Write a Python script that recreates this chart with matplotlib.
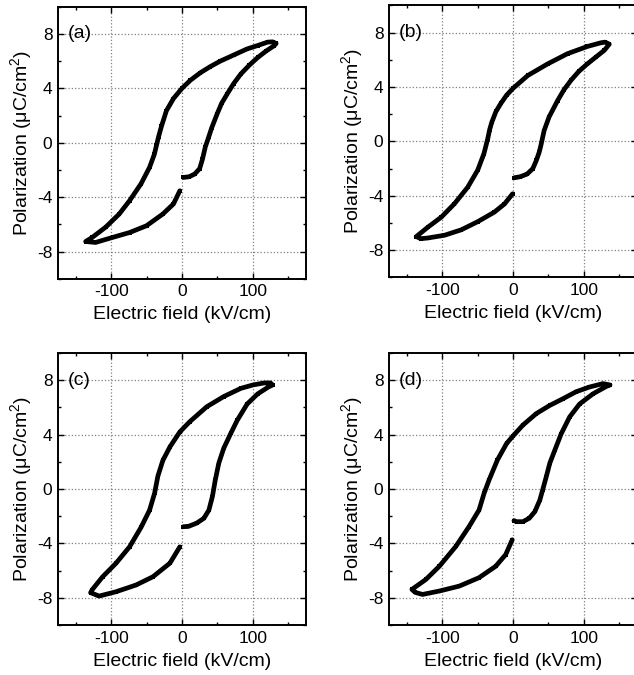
import numpy as np
import matplotlib
matplotlib.use("Agg")
import matplotlib.pyplot as plt
from matplotlib.ticker import MultipleLocator

plt.rcParams['font.family'] = ['Liberation Sans', 'DejaVu Sans']
plt.rcParams['mathtext.default'] = 'regular'
plt.rcParams['axes.unicode_minus'] = False

# Hysteresis loops: field (kV/cm), polarization (uC/cm2)
field_a = [2, 10, 18, 25, 29, 33, 37.6, 42, 49.5, 56, 64, 73, 83, 95, 107, 119, 130, 133,
           128, 121, 107, 92, 73, 54, 40, 26, 12, 0, -12, -22, -29, -33, -36, -39,
           -45.7, -57.6, -74, -88.6, -107.6, -126.7, -136,
           -122, -98, -74, -50, -27, -12, -3]
pol_a = [-2.55, -2.5, -2.3, -1.9, -1.2, -0.3, 0.4, 1.1, 2.1, 2.9, 3.6, 4.35, 5.05, 5.7, 6.27, 6.75, 7.13, 7.3,
         7.42, 7.4, 7.15, 6.9, 6.45, 6.0, 5.6, 5.15, 4.6, 4.0, 3.25, 2.35, 1.2, 0.45, -0.2, -0.85,
         -1.8, -3.0, -4.26, -5.24, -6.2, -6.96, -7.26,
         -7.33, -6.96, -6.6, -6.1, -5.24, -4.5, -3.53]

field_b = [2, 10, 20, 28, 33, 37, 39.4, 44, 51, 63, 72, 82, 93, 105, 117, 129, 136,
           130, 124, 105, 77, 49, 21, 0, -9, -17, -24, -30, -33, -35.6, -41, -49.7,
           -63.8, -82.6, -101, -120, -136.6,
           -130, -120, -96.7, -73, -49.7, -26.3, -12, -0.5]
pol_b = [-2.67, -2.6, -2.4, -2.0, -1.4, -0.8, -0.3, 0.8, 1.8, 3.0, 3.8, 4.5, 5.15, 5.7, 6.2, 6.7, 7.15,
         7.3, 7.25, 6.98, 6.45, 5.7, 4.85, 3.9, 3.4, 2.8, 2.2, 1.4, 0.85, 0.2, -0.9, -2.1,
         -3.36, -4.58, -5.56, -6.3, -7.0,
         -7.15, -7.1, -6.9, -6.5, -5.9, -5.2, -4.6, -3.85]

field_c = [2, 9, 21, 31, 38, 43, 47, 52, 59, 69, 78, 92, 107, 122, 128,
           125, 116, 100, 83, 59, 35, 11, -3, -17, -27, -34, -38.6, -45.7, -57.6,
           -74, -93, -112, -126.7, -129,
           -117, -93, -65, -41, -17, -3]
pol_c = [-2.77, -2.75, -2.5, -2.15, -1.55, -0.55, 0.65, 1.9, 3.0, 4.1, 5.05, 6.25, 7.0, 7.5, 7.65,
         7.8, 7.8, 7.65, 7.4, 6.8, 6.05, 4.95, 4.2, 3.1, 2.1, 0.95, -0.3, -1.55, -2.8,
         -4.25, -5.45, -6.45, -7.4, -7.62,
         -7.87, -7.55, -7.06, -6.45, -5.45, -4.25]

field_d = [1.4, 5, 14, 23, 31, 38, 42, 47, 52, 59, 68, 80, 94, 113, 132, 137,
           127, 108, 89, 71, 52, 33, 14, 0, -9, -22, -33.8, -40.8, -47.9, -62,
           -80.7, -104, -123, -142.7,
           -138, -127.7, -104, -76, -48, -24.4, -10.3, -1]
pol_d = [-2.32, -2.4, -2.4, -2.15, -1.65, -0.8, -0.05, 0.9, 1.9, 2.85, 4.05, 5.3, 6.25, 7.0, 7.55, 7.65,
         7.75, 7.5, 7.15, 6.65, 6.15, 5.55, 4.7, 3.9, 3.35, 2.13, 0.66, -0.32, -1.54, -2.76,
         -4.22, -5.68, -6.65, -7.38,
         -7.6, -7.75, -7.5, -7.14, -6.52, -5.68, -4.82, -3.73]

panels = [("(a)", field_a, pol_a, [0.0915, 0.587, 0.391, 0.403]),
          ("(b)", field_b, pol_b, [0.6136, 0.589, 0.391, 0.403]),
          ("(c)", field_c, pol_c, [0.0915, 0.074, 0.391, 0.403]),
          ("(d)", field_d, pol_d, [0.6136, 0.074, 0.391, 0.403])]

fig = plt.figure(figsize=(6.34, 6.75), dpi=100)

for label, xs, ys, rect in panels:
    ax = fig.add_axes(rect)
    ax.plot(xs, ys, 'k-', lw=3.4, marker='s', ms=3.5, mew=0,
            solid_joinstyle='round', solid_capstyle='round')
    ax.set_xlim(-175, 175)
    ax.set_ylim(-10, 10)
    ax.xaxis.set_major_locator(MultipleLocator(100))
    ax.xaxis.set_minor_locator(MultipleLocator(50))
    ax.yaxis.set_major_locator(MultipleLocator(4))
    ax.yaxis.set_minor_locator(MultipleLocator(2))
    ax.set_yticks([-8, -4, 0, 4, 8])
    ax.tick_params(which='both', direction='in', top=True, right=True,
                   labelsize=12.5, pad=4, width=1)
    ax.tick_params(which='major', length=4)
    ax.tick_params(which='minor', length=2.5)
    ax.grid(True, which='major', ls=':', color='0.5', lw=0.9)
    for sp in ax.spines.values():
        sp.set_linewidth(1.4)
    ax.set_xlabel("Electric field (kV/cm)", fontsize=14, labelpad=5)
    ax.set_ylabel(r"Polarization ($\mu$C/cm$^2$)", fontsize=14, labelpad=2)
    ax.text(0.04, 0.9, label, transform=ax.transAxes, fontsize=14,
            va='center', ha='left')

fig.savefig("out.png", dpi=100)
